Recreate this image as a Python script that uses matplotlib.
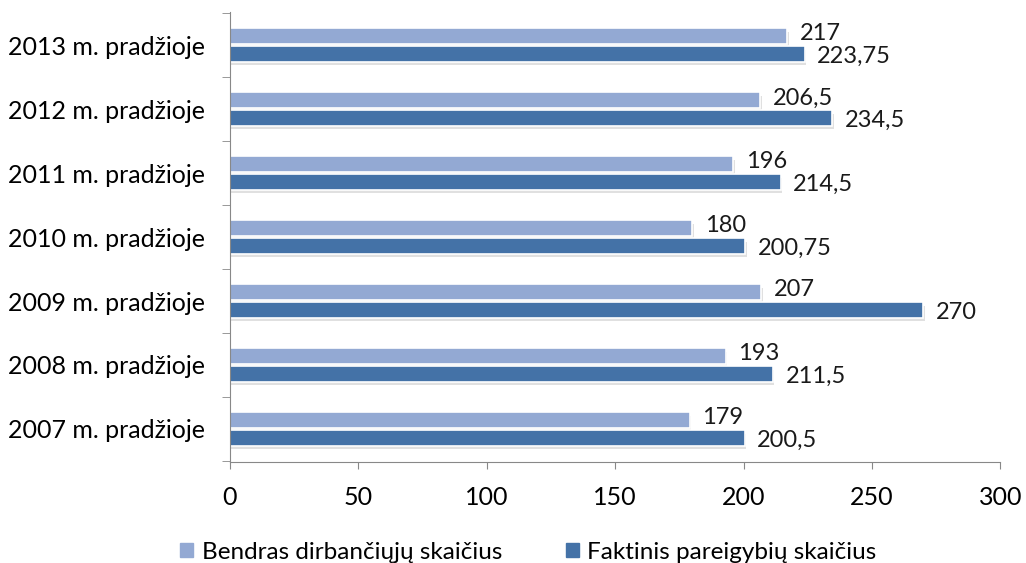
import matplotlib.pyplot as plt
import matplotlib.patheffects as pe
from matplotlib.patches import Patch
import numpy as np

# data (bottom to top)
years = ["2007 m. pradžioje", "2008 m. pradžioje", "2009 m. pradžioje",
         "2010 m. pradžioje", "2011 m. pradžioje", "2012 m. pradžioje",
         "2013 m. pradžioje"]
bendras = [179, 193, 207, 180, 196, 206.5, 217]
faktinis = [200.5, 211.5, 270, 200.75, 214.5, 234.5, 223.75]
series_names = ["Bendras dirbančiųjų skaičius", "Faktinis pareigybių skaičius"]

light = "#93A9D3"
dark = "#4472A7"

plt.rcParams['font.family'] = ['Lato', 'DejaVu Sans']

fig = plt.figure(figsize=(10.26, 5.63), dpi=100)
ax = fig.add_axes([0.224, 0.179, 0.751, 0.80])

y = np.arange(len(years))
h = 0.245
off = 0.142
shadow = [pe.SimplePatchShadow(offset=(1, -2.5), shadow_rgbFace="#9a9a9a", alpha=0.3), pe.Normal()]

ax.barh(y + off, bendras, height=h, color=light, edgecolor="white", linewidth=1.2,
        path_effects=shadow)
ax.barh(y - off, faktinis, height=h, color=dark, edgecolor="white", linewidth=1.2,
        path_effects=shadow)


def fmt(v):
    return ("%g" % v).replace(".", ",")


for yi, v in zip(y, bendras):
    ax.annotate(fmt(v), (v, yi + off), xytext=(9, 1.5), textcoords="offset points",
                va="center", ha="left", fontsize=17, color="#1a1a1a")
for yi, v in zip(y, faktinis):
    ax.annotate(fmt(v), (v, yi - off), xytext=(9, -1.5), textcoords="offset points",
                va="center", ha="left", fontsize=17, color="#1a1a1a")

ax.set_xlim(0, 300)
ax.set_ylim(-0.52, 6.52)
ax.set_xticks(range(0, 301, 50))
ax.tick_params(axis="x", labelsize=18, length=5, color="#888888", pad=12)

ax.set_yticks(y)
ax.set_yticklabels(years, fontsize=18)
ax.set_yticks(np.arange(-0.5, 7, 1), minor=True)
ax.tick_params(axis="y", which="major", length=0, pad=18)
ax.tick_params(axis="y", which="minor", length=6, color="#888888")

for s in ["top", "right"]:
    ax.spines[s].set_visible(False)
for s in ["left", "bottom"]:
    ax.spines[s].set_color("#888888")

handles = [Patch(color=light), Patch(color=dark)]
fig.legend(handles=handles, labels=series_names, loc="lower center",
           bbox_to_anchor=(0.515, -0.038), ncol=2, frameon=False, fontsize=17.5,
           handlelength=0.55, handleheight=0.55, handletextpad=0.35, columnspacing=2.6)

fig.savefig("out.png", dpi=100)
